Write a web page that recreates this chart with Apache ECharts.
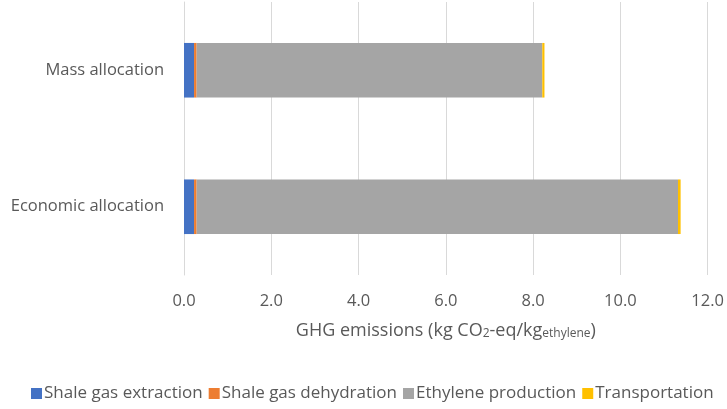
<!DOCTYPE html>
<html><head><meta charset="utf-8">
<script src="https://cdn.jsdelivr.net/npm/echarts@6/dist/echarts.min.js"></script>
<style>html,body{margin:0;padding:0;background:#fff}#c{width:727px;height:409px}</style>
</head><body><div id="c"></div>
<script>
const categories = ['Economic allocation', 'Mass allocation'];
const shaleGasExtraction = [0.23, 0.23];
const shaleGasDehydration = [0.06, 0.06];
const ethyleneProduction = [11.03, 7.92];
const transportation = [0.06, 0.05];
const seriesNames = ['Shale gas extraction', 'Shale gas dehydration', 'Ethylene production', 'Transportation'];
const colors = ['#4472C4', '#ED7D31', '#A5A5A5', '#FFC000'];
const font = '"Open Sans", sans-serif';
const chart = echarts.init(document.getElementById('c'));
const data = [shaleGasExtraction, shaleGasDehydration, ethyleneProduction, transportation];
chart.setOption({
  animation: false,
  color: colors,
  grid: {left: 184, right: 18, top: 2, bottom: 134},
  xAxis: {
    type: 'value', min: 0, max: 12, interval: 2,
    axisLine: {show: false}, axisTick: {show: false},
    splitLine: {lineStyle: {color: '#D9D9D9', width: 1}},
    axisLabel: {formatter: v => v.toFixed(1), color: '#595959', fontSize: 16.5, fontFamily: font, margin: 18},
    name: '{a|GHG emissions (kg CO}{s|2}{a|-eq/kg}{s|ethylene}{a|)}',
    nameLocation: 'middle', nameGap: 47,
    nameTextStyle: {rich: {
      a: {fontSize: 18, color: '#595959', fontFamily: font},
      s: {fontSize: 12, color: '#595959', fontFamily: font, verticalAlign: 'bottom', padding: [6,0,0,0]}
    }}
  },
  yAxis: {
    type: 'category', data: categories,
    axisLine: {lineStyle: {color: '#D9D9D9'}}, axisTick: {show: false},
    axisLabel: {color: '#595959', fontSize: 16.5, fontFamily: font, margin: 20, padding: [6,0,0,0]}
  },
  legend: {
    bottom: 2, left: 26, itemWidth: 11, itemHeight: 11, itemGap: 6,
    icon: 'rect',
    textStyle: {color: '#595959', fontSize: 17, fontFamily: font, padding: [0,0,0,-3]},
    data: seriesNames
  },
  series: seriesNames.map((n, i) => ({
    name: n, type: 'bar', stack: 'total', data: data[i], barWidth: '40%'
  }))
});
</script></body></html>
